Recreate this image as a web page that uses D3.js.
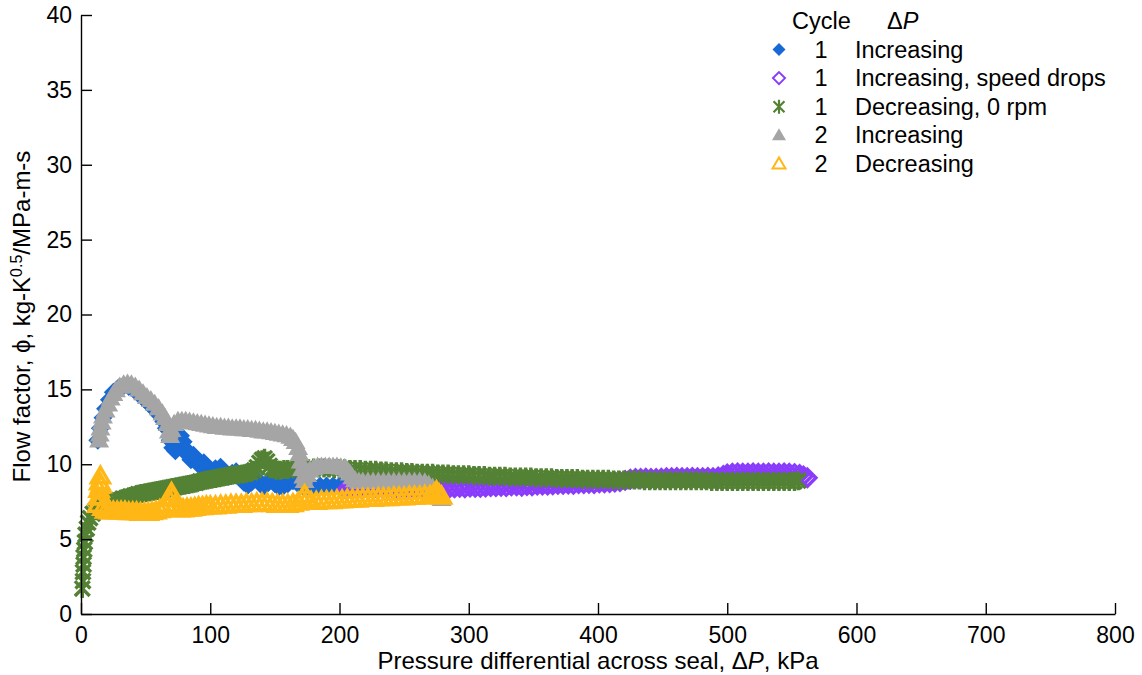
<!DOCTYPE html>
<html>
<head>
<meta charset="utf-8">
<script src="https://cdn.jsdelivr.net/npm/d3@7"></script>
<style>
  html, body { margin: 0; padding: 0; background: #fff; }
  svg { display: block; font-family: "Liberation Sans", Arial, Helvetica, sans-serif; }
</style>
</head>
<body>
<svg id="chart" width="1142" height="675"></svg>
<script>
// ---- Data: [pressure differential ΔP (kPa), flow factor φ] ----
const cycle1Increasing = [
  [13,11.6],[15,12.4],[17,13.1],[19,13.7],[22,14.3],[25,14.8],[29,15.1],[33,15.25],[37,15.2],[41,15.0],
  [45,14.65],[49,14.35],[53,14.0],[57,13.65],[61,13.25],[64,12.85],[66,12.4],[69,11.6],[71,11.1],[73,10.9],
  [75,11.4],[77,11.9],[79,11.5],[81,11.0],[83,10.6],[85,10.3],[87,10.6],[89,10.3],[92,9.9],[95,10.1],
  [98,9.8],[101,9.5],[104,9.7],[108,9.8],[111,9.4],[114,9.2],[117,9.4],[120,9.5],[123,9.1],[126,8.8],
  [129,8.6],[132,8.8],[135,9.1],[138,8.8],[141,8.5],[144,8.7],[147,9.0],[150,8.7],[153,8.5],[156,8.5],
  [160,8.7],[164,8.9],[168,8.7],[172,8.5],[176,8.5],[180,8.5],[185,8.55],[190,8.55],[195,8.55],[200,8.55],
  [205,8.55],[210,8.55]
];

const cycle1SpeedDrops = [
  [205,8.3],[209,8.35],[213,8.4],[217,8.38],[221,8.42],[225,8.4],[229,8.38],[233,8.42],[237,8.4],[241,8.4],
  [245,8.38],[249,8.42],[253,8.4],[257,8.4],[261,8.38],[265,8.42],[269,8.4],[273,8.4],[277,8.38],[281,8.42],
  [285,8.4],[289,8.42],[293,8.45],[297,8.43],[301,8.47],[305,8.45],[309,8.45],[313,8.48],[317,8.5],[321,8.5],
  [325,8.52],[329,8.5],[333,8.55],[337,8.55],[341,8.53],[345,8.57],[349,8.55],[353,8.6],[357,8.6],[361,8.6],
  [365,8.62],[369,8.65],[373,8.65],[377,8.67],[381,8.65],[385,8.7],[389,8.7],[393,8.72],[397,8.7],[401,8.75],
  [405,8.75],[409,8.77],[413,8.8],[417,8.85],[421,8.92],[425,9.0],[429,9.05],[433,9.05],[437,9.07],[441,9.05],
  [445,9.05],[449,9.07],[453,9.1],[457,9.1],[461,9.12],[465,9.1],[469,9.1],[473,9.12],[477,9.1],[481,9.1],
  [485,9.12],[489,9.1],[493,9.15],[497,9.25],[500,9.35],[504,9.4],[508,9.42],[512,9.4],[516,9.4],[520,9.42],
  [524,9.4],[528,9.4],[532,9.42],[536,9.4],[540,9.4],[544,9.42],[548,9.4],[552,9.38],[556,9.32],[559,9.22],
  [562,9.1]
];

const cycle1Decreasing0rpm = [
  [1,1.7],[1.5,2.2],[1.5,2.8],[2,3.3],[2,3.8],[2.5,4.3],[3,4.8],[3.5,5.3],[4.5,5.7],[5.5,6.1],
  [7,6.4],[9,6.7],[11,6.9],[14,7.0],[17,7.15],[20,7.3],[23,7.4],[26,7.5],[29,7.6],[32,7.7],
  [35,7.75],[38,7.85],[41,7.9],[44,8.0],[47,8.05],[50,8.1],[53,8.15],[56,8.2],[59,8.25],[62,8.3],
  [65,8.35],[68,8.4],[71,8.45],[74,8.5],[77,8.55],[80,8.6],[83,8.65],[86,8.7],[89,8.75],[92,8.85],
  [95,8.9],[98,8.95],[101,9.0],[104,9.05],[107,9.1],[110,9.15],[113,9.2],[116,9.25],[119,9.3],[122,9.3],
  [125,9.35],[128,9.4],[131,9.45],[134,9.6],[136,9.8],[138,10.1],[140,10.3],[142,10.4],[144,10.2],[146,9.9],
  [148,9.7],[151,9.6],[154,9.6],[157,9.65],[160,9.65],[164,9.7],[168,9.7],[172,9.7],[176,9.7],[180,9.75],
  [184,9.75],[188,9.75],[192,9.75],[196,9.7],[200,9.7],[204,9.7],[208,9.65],[212,9.65],[216,9.65],[220,9.6],
  [224,9.6],[228,9.6],[232,9.55],[236,9.55],[240,9.5],[244,9.5],[248,9.5],[252,9.45],[256,9.45],[260,9.4],
  [264,9.4],[268,9.4],[272,9.4],[276,9.35],[280,9.35],[284,9.35],[288,9.3],[292,9.3],[296,9.3],[300,9.3],
  [304,9.25],[308,9.25],[312,9.25],[316,9.2],[320,9.2],[324,9.2],[328,9.2],[332,9.15],[336,9.15],[340,9.15],
  [344,9.15],[348,9.15],[352,9.1],[356,9.1],[360,9.1],[364,9.1],[368,9.05],[372,9.05],[376,9.05],[380,9.05],
  [384,9.05],[388,9.0],[392,9.0],[396,9.0],[400,9.0],[404,9.0],[408,9.0],[412,8.95],[416,8.95],[420,8.95],
  [424,8.95],[428,8.95],[432,8.95],[436,8.9],[440,8.9],[444,8.9],[448,8.9],[452,8.9],[456,8.9],[460,8.9],
  [464,8.9],[468,8.9],[472,8.9],[476,8.9],[480,8.9],[484,8.9],[488,8.85],[492,8.85],[496,8.85],[500,8.85],
  [504,8.85],[508,8.85],[512,8.85],[516,8.85],[520,8.85],[524,8.85],[528,8.85],[532,8.85],[536,8.85],[540,8.85],
  [544,8.85],[548,8.85],[552,8.85],[555,8.9]
];

const cycle2Increasing = [
  [14,11.6],[14.5,12.0],[15,12.4],[16,12.8],[17,13.2],[19,13.6],[21,14.0],[23,14.4],[25,14.7],[27,14.95],
  [30,15.2],[33,15.35],[36,15.4],[39,15.35],[42,15.2],[45,15.0],[48,14.75],[51,14.5],[54,14.3],[57,14.05],
  [60,13.75],[63,13.4],[65,13.1],[67,12.7],[68,12.2],[69,11.9],[70,12.3],[72,12.7],[75,12.9],[78,12.9],
  [81,12.9],[84,12.85],[87,12.8],[90,12.75],[93,12.7],[96,12.65],[99,12.6],[102,12.55],[105,12.5],[108,12.5],
  [111,12.45],[114,12.45],[117,12.4],[120,12.4],[123,12.4],[126,12.35],[129,12.35],[132,12.3],[135,12.3],[138,12.25],
  [141,12.2],[144,12.2],[147,12.15],[150,12.1],[153,12.05],[156,12.0],[159,11.95],[162,11.85],[164,11.7],[166,11.5],
  [168,11.1],[169,10.7],[170,10.2],[171,9.7],[172,9.2],[173,8.9],[175,9.3],[177,9.6],[180,9.75],[183,9.85],
  [186,9.85],[189,9.85],[192,9.85],[195,9.85],[198,9.85],[201,9.8],[204,9.75],[206,9.6],[208,9.4],[210,9.15],
  [212,8.95],[215,8.85],[218,8.85],[222,8.85],[226,8.85],[230,8.85],[234,8.85],[238,8.85],[242,8.85],[246,8.85],
  [250,8.85],[254,8.85],[258,8.85],[262,8.85],[266,8.8],[269,8.65],[272,8.45],[275,8.2],[277,7.95],[279,7.7]
];

const cycle2Decreasing = [
  [13,7.3],[13.5,7.8],[14,8.3],[14.5,8.8],[15,9.2],[15.5,8.6],[16,7.8],[17,7.1],[19,6.9],[22,6.85],
  [25,6.85],[28,6.85],[31,6.85],[34,6.85],[37,6.8],[40,6.8],[43,6.8],[46,6.75],[49,6.75],[52,6.75],
  [55,6.8],[58,6.85],[61,6.95],[64,7.05],[66,7.3],[68,7.7],[70,8.1],[71,7.8],[73,7.3],[76,7.0],
  [79,7.0],[82,7.05],[85,7.05],[88,7.1],[91,7.15],[94,7.15],[97,7.2],[100,7.2],[104,7.2],[108,7.25],
  [112,7.25],[116,7.3],[120,7.3],[124,7.3],[128,7.35],[132,7.35],[136,7.4],[140,7.4],[144,7.4],[148,7.35],
  [152,7.3],[156,7.3],[160,7.3],[164,7.35],[168,7.45],[171,7.7],[173,7.95],[175,7.7],[178,7.5],[182,7.5],
  [186,7.55],[190,7.55],[194,7.55],[198,7.6],[202,7.6],[206,7.65],[210,7.65],[214,7.65],[218,7.7],[222,7.7],
  [226,7.7],[230,7.75],[234,7.75],[238,7.75],[242,7.8],[246,7.8],[250,7.8],[254,7.85],[258,7.85],[262,7.85],
  [266,7.9],[270,7.9],[273,8.0],[275,8.2],[277,8.0],[279,7.85]
];

const xTicks = [0, 100, 200, 300, 400, 500, 600, 700, 800];
const yTicks = [0, 5, 10, 15, 20, 25, 30, 35, 40];

const legendRows = [
  { cycle: "1", label: "Increasing" },
  { cycle: "1", label: "Increasing, speed drops" },
  { cycle: "1", label: "Decreasing, 0 rpm" },
  { cycle: "2", label: "Increasing" },
  { cycle: "2", label: "Decreasing" }
];

// ---- Marker shapes ----
const diamondType = {
  draw(ctx, size) {
    const r = Math.sqrt(size) / 2;
    ctx.moveTo(0, -r); ctx.lineTo(r, 0); ctx.lineTo(0, r); ctx.lineTo(-r, 0); ctx.closePath();
  }
};
const triangleType = {
  draw(ctx, size) {
    const w = Math.sqrt(size), h = w * 0.86;
    ctx.moveTo(0, -h * 0.58); ctx.lineTo(w / 2, h * 0.42); ctx.lineTo(-w / 2, h * 0.42); ctx.closePath();
  }
};
const asteriskType = {
  draw(ctx, size) {
    const r = Math.sqrt(size) / 2, a = r * 0.78;
    ctx.moveTo(0, -r); ctx.lineTo(0, r);
    ctx.moveTo(-a, -a); ctx.lineTo(a, a);
    ctx.moveTo(-a, a); ctx.lineTo(a, -a);
  }
};

const series = [
  { data: cycle1Increasing,     type: diamondType,  color: "#1769d6", filled: true,  size: 19, sw: 0,   lsize: 13, lsw: 0 },
  { data: cycle1SpeedDrops,     type: diamondType,  color: "#8a3cfb", filled: false, size: 17, sw: 3.4, lsize: 12, lsw: 2 },
  { data: cycle1Decreasing0rpm, type: asteriskType, color: "#548235", filled: false, size: 19, sw: 3.4, lsize: 14, lsw: 2.2 },
  { data: cycle2Increasing,     type: triangleType, color: "#a5a5a5", filled: true,  size: 20, sw: 0,   lsize: 14, lsw: 0 },
  { data: cycle2Decreasing,     type: triangleType, color: "#ffb716", filled: false, size: 18, sw: 3.4, lsize: 13, lsw: 2 }
];

// ---- Layout & scales ----
const svg = d3.select("#chart");
const x = d3.scaleLinear().domain([0, 800]).range([81, 1115]);
const y = d3.scaleLinear().domain([0, 40]).range([614, 15]);

// ---- Data markers ----
const plot = svg.append("g");
series.forEach(s => {
  const sym = d3.symbol().type(s.type).size(s.size * s.size);
  plot.append("g").selectAll("path")
    .data(s.data)
    .join("path")
    .attr("transform", d => `translate(${x(d[0])},${y(d[1])})`)
    .attr("d", sym)
    .attr("fill", s.filled ? s.color : "none")
    .attr("stroke", s.filled ? "none" : s.color)
    .attr("stroke-width", s.sw)
    .attr("stroke-linejoin", "miter");
});

// ---- Axes (ticks point inward, left and bottom only) ----
const axisColor = "#000";
const xAxis = svg.append("g")
  .attr("transform", `translate(0,${y(0)})`)
  .call(d3.axisBottom(x).tickValues(xTicks).tickSizeInner(-11).tickSizeOuter(0).tickPadding(13));
const yAxis = svg.append("g")
  .attr("transform", `translate(${x(0)},0)`)
  .call(d3.axisLeft(y).tickValues(yTicks).tickSizeInner(-11).tickSizeOuter(0).tickPadding(9));

[xAxis, yAxis].forEach(g => {
  g.select(".domain").attr("stroke", axisColor).attr("stroke-width", 1.4);
  g.selectAll(".tick line").attr("stroke", axisColor).attr("stroke-width", 1.4);
  g.selectAll(".tick text")
    .attr("fill", "#000")
    .style("font-size", "23px")
    .style("font-family", '"Liberation Sans", Arial, sans-serif');
});

// ---- Axis titles ----
const xTitle = svg.append("text")
  .attr("x", (x(0) + x(800)) / 2)
  .attr("y", 669)
  .attr("text-anchor", "middle")
  .style("font-size", "24px");
xTitle.append("tspan").text("Pressure differential across seal, \u0394");
xTitle.append("tspan").style("font-style", "italic").text("P");
xTitle.append("tspan").text(", kPa");

const yTitle = svg.append("text")
  .attr("transform", `translate(30,${(y(0) + y(40)) / 2 + 2}) rotate(-90)`)
  .attr("text-anchor", "middle")
  .style("font-size", "24px");
yTitle.append("tspan").text("Flow factor, \u03D5, kg-K");
yTitle.append("tspan").attr("dy", -8).style("font-size", "16px").text("0.5");
yTitle.append("tspan").attr("dy", 8).text("/MPa-m-s");

// ---- Legend ----
const legend = svg.append("g").style("font-size", "23.5px");
legend.append("text").attr("x", 792).attr("y", 29).text("Cycle");
const dpHead = legend.append("text").attr("x", 887).attr("y", 29);
dpHead.append("tspan").text("\u0394");
dpHead.append("tspan").style("font-style", "italic").text("P");

legendRows.forEach((row, i) => {
  const s = series[i];
  const base = 57.5 + i * 28.6;
  const cy = base - 8;
  legend.append("path")
    .attr("transform", `translate(779,${cy})`)
    .attr("d", d3.symbol().type(s.type).size(s.lsize * s.lsize)())
    .attr("fill", s.filled ? s.color : "none")
    .attr("stroke", s.filled ? "none" : s.color)
    .attr("stroke-width", s.lsw);
  legend.append("text").attr("x", 821).attr("y", base).attr("text-anchor", "middle").text(row.cycle);
  legend.append("text").attr("x", 855).attr("y", base).text(row.label);
});
</script>
</body>
</html>
